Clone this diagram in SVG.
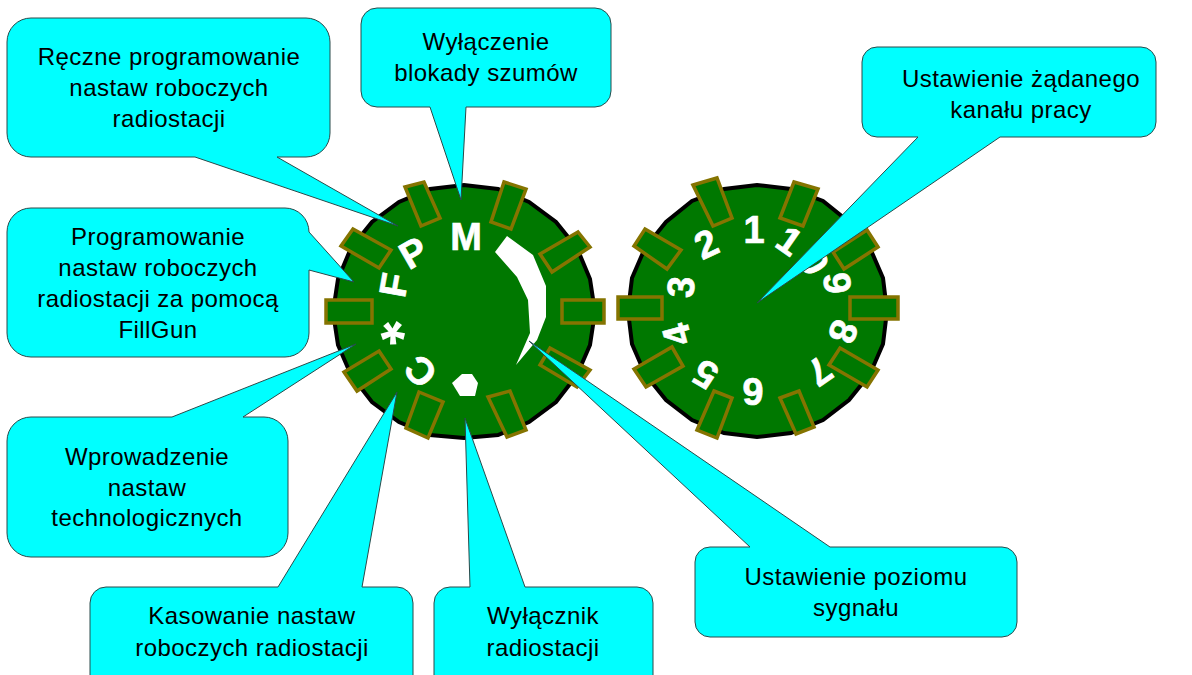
<svg xmlns="http://www.w3.org/2000/svg" width="1192" height="675" viewBox="0 0 1192 675">
<style>
.dial{fill:#007800;stroke:#000;stroke-width:4}
.key{fill:#007800;stroke:#857400;stroke-width:3.5}
.mark{fill:#fff;stroke:#fff;stroke-width:.7;font:bold 38px "Liberation Sans",Arial,sans-serif;text-anchor:middle}
.call{fill:#00ffff;stroke:#2a4a4a;stroke-width:1}
.lbl{fill:#000;font:24px "Liberation Sans",Arial,sans-serif;letter-spacing:.45px;text-anchor:middle}
</style>
<rect width="1192" height="675" fill="#fff"/>
<g id="dial-left">
<polygon class="dial" points="595,312 590,345 577,375 556,402 529,422 498,435 464,438 430,435 399,422 372,402 351,375 338,345 333,312 338,279 351,248 372,222 399,202 430,189 464,185 498,189 529,202 556,222 577,248 590,279"/>
<polygon class="key" points="405,187 424,182 440,218 421,226"/>
<polygon class="key" points="504,182 526,189 511,229 491,222"/>
<polygon class="key" points="578,232 590,247 552,272 540,254"/>
<polygon class="key" points="562,300 604,300 604,323 562,323"/>
<polygon class="key" points="550,348 590,370 577,387 540,365"/>
<polygon class="key" points="488,397 510,391 526,430 507,437"/>
<polygon class="key" points="419,392 443,402 428,438 406,428"/>
<polygon class="key" points="379,351 391,369 357,391 344,372"/>
<polygon class="key" points="326,300 372,300 372,323 326,323"/>
<polygon class="key" points="353,229 391,250 379,268 341,246"/>
<polygon fill="#fff" points="507,236 533,255 546,286 546,317 537,340 516,365 530,333 528,300 517,277 495,252"/>
<polygon fill="#fff" points="452,383 462,374 472,374 478,383 475,396 460,396"/>
<text class="mark" x="466" y="250">M</text>
<text class="mark" transform="translate(413,252) rotate(-30)" y="14">P</text>
<text class="mark" transform="translate(393,285) rotate(-80)" y="14">F</text>
<text class="mark" transform="translate(387,335) rotate(-110)" y="37" style="font-size:62px;stroke:none">*</text>
<text class="mark" transform="translate(420,372) rotate(-135)" y="14">C</text>
</g>
<g id="dial-right">
<polygon class="dial" points="887,311 883,344 870,374 849,400 823,420 791,433 757,437 724,433 692,420 666,400 645,374 632,344 628,311 632,278 645,248 666,222 692,201 724,189 757,185 791,189 823,201 849,222 870,248 883,278"/>
<polygon class="key" points="693,185 717,178 732,218 713,226"/>
<polygon class="key" points="794,182 818,189 803,226 780,218"/>
<polygon class="key" points="867,230 878,247 844,269 833,252"/>
<polygon class="key" points="850,297 898,297 898,319 850,319"/>
<polygon class="key" points="840,348 878,370 867,387 829,365"/>
<polygon class="key" points="780,398 799,391 814,427 796,434"/>
<polygon class="key" points="714,391 732,398 717,438 697,430"/>
<polygon class="key" points="672,347 683,366 646,387 634,369"/>
<polygon class="key" points="618,297 662,297 662,319 618,319"/>
<polygon class="key" points="645,229 681,250 667,269 634,246"/>
<text class="mark" x="754" y="243">1</text>
<text class="mark" transform="translate(706,243) rotate(-25)" y="14">2</text>
<text class="mark" transform="translate(680,287) rotate(-85)" y="14">3</text>
<text class="mark" transform="translate(676,335) rotate(-105)" y="14">4</text>
<text class="mark" transform="translate(705,375) rotate(-150)" y="14">5</text>
<text class="mark" transform="translate(753,392) rotate(180)" y="14">6</text>
<text class="mark" transform="translate(820,372) rotate(145)" y="14">7</text>
<text class="mark" transform="translate(844,332) rotate(110)" y="14">8</text>
<text class="mark" transform="translate(838,283) rotate(85)" y="14">9</text>
<text class="mark" transform="translate(815,262) rotate(60)" y="14">0</text>
<text class="mark" transform="translate(790,240) rotate(35)" y="14">1</text>
</g>
<g id="connectors">
<path class="call" d="M31,18H306A24,24 0 0 1 330,42V133A24,24 0 0 1 306,157H277L398,226L195,157H31A24,24 0 0 1 7,133V42A24,24 0 0 1 31,18Z"/>
<path class="call" d="M377,8H595A16,16 0 0 1 611,24V91A16,16 0 0 1 595,107H466L461,200L430,107H377A16,16 0 0 1 361,91V24A16,16 0 0 1 377,8Z"/>
<path class="call" d="M877,47H1141A15,15 0 0 1 1156,62V122A15,15 0 0 1 1141,137H1000L757,303L918,137H877A15,15 0 0 1 862,122V62A15,15 0 0 1 877,47Z"/>
<path class="call" d="M31,208H285A24,24 0 0 1 309,232L354,282L309,270V333A24,24 0 0 1 285,357H31A24,24 0 0 1 7,333V232A24,24 0 0 1 31,208Z"/>
<path class="call" d="M31,417H172L356,344L243,417H264A24,24 0 0 1 288,441V533A24,24 0 0 1 264,557H31A24,24 0 0 1 7,533V441A24,24 0 0 1 31,417Z"/>
<path class="call" d="M106,587H278L397,392L362,587H397A16,16 0 0 1 413,603V690H90V603A16,16 0 0 1 106,587Z"/>
<path class="call" d="M450,587H470L465,418L525,587H637A16,16 0 0 1 653,603V690H434V603A16,16 0 0 1 450,587Z"/>
<path class="call" d="M710,547H750L529,341L830,547H1002A15,15 0 0 1 1017,562V622A15,15 0 0 1 1002,637H710A15,15 0 0 1 695,622V562A15,15 0 0 1 710,547Z"/>
</g>
<g id="label-reczne"><text class="lbl"><tspan x="169" y="65">Ręczne programowanie</tspan><tspan x="169" y="96">nastaw roboczych</tspan><tspan x="169" y="127">radiostacji</tspan></text></g>
<g id="label-wylaczenie"><text class="lbl"><tspan x="486" y="50">Wyłączenie</tspan><tspan x="486" y="81">blokady szumów</tspan></text></g>
<g id="label-kanal"><text class="lbl"><tspan x="1021" y="87">Ustawienie żądanego</tspan><tspan x="1021" y="118">kanału pracy</tspan></text></g>
<g id="label-programowanie"><text class="lbl"><tspan x="158" y="245">Programowanie</tspan><tspan x="158" y="276">nastaw roboczych</tspan><tspan x="158" y="307">radiostacji za pomocą</tspan><tspan x="158" y="338">FillGun</tspan></text></g>
<g id="label-wprowadzenie"><text class="lbl"><tspan x="147" y="465">Wprowadzenie</tspan><tspan x="147" y="496">nastaw</tspan><tspan x="147" y="526">technologicznych</tspan></text></g>
<g id="label-kasowanie"><text class="lbl"><tspan x="252" y="624">Kasowanie nastaw</tspan><tspan x="252" y="656">roboczych radiostacji</tspan></text></g>
<g id="label-wylacznik"><text class="lbl"><tspan x="543" y="624">Wyłącznik</tspan><tspan x="543" y="656">radiostacji</tspan></text></g>
<g id="label-poziom"><text class="lbl"><tspan x="856" y="585">Ustawienie poziomu</tspan><tspan x="856" y="616">sygnału</tspan></text></g>
</svg>
